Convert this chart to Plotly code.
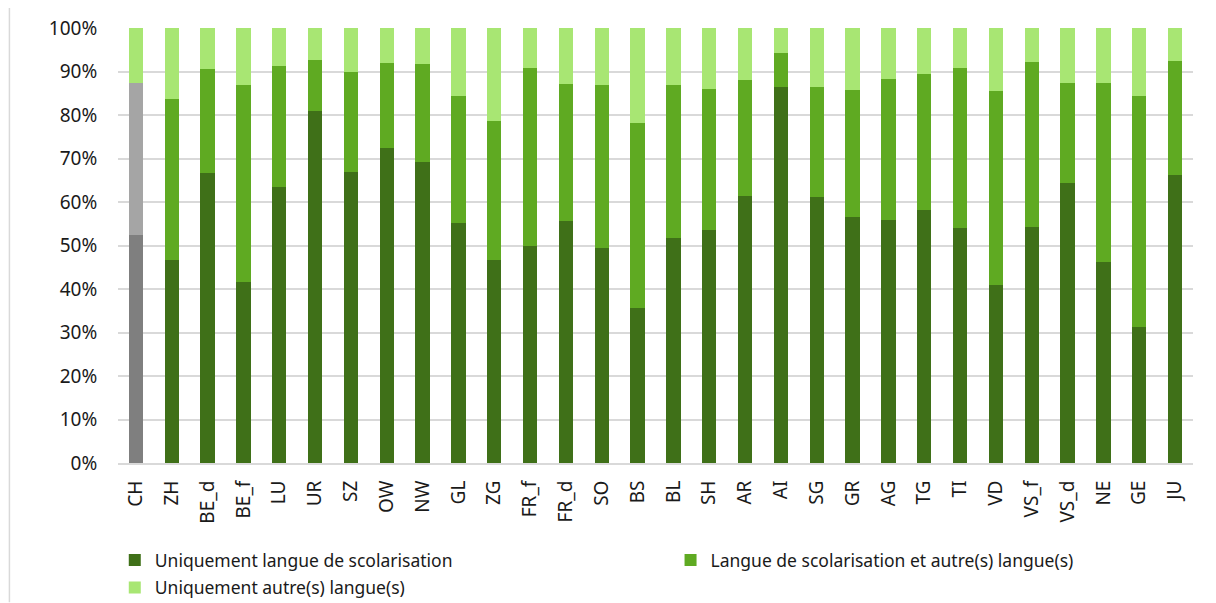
import plotly.graph_objects as go

cantons = ['CH', 'ZH', 'BE_d', 'BE_f', 'LU', 'UR', 'SZ', 'OW', 'NW', 'GL', 'ZG', 'FR_f',
           'FR_d', 'SO', 'BS', 'BL', 'SH', 'AR', 'AI', 'SG', 'GR', 'AG', 'TG', 'TI',
           'VD', 'VS_f', 'VS_d', 'NE', 'GE', 'JU']

# parts en %
uniquement_scol = [52.3, 46.6, 66.7, 41.5, 63.5, 81.0, 67.0, 72.5, 69.2, 55.2, 46.7, 49.8,
                   55.6, 49.4, 35.7, 51.8, 53.6, 61.3, 86.5, 61.1, 56.5, 55.9, 58.2, 54.0,
                   41.0, 54.3, 64.4, 46.2, 31.3, 66.2]
scol_et_autre = [35.0, 37.0, 23.8, 45.5, 27.7, 11.6, 23.0, 19.5, 22.5, 29.2, 32.0, 41.0,
                 31.5, 37.5, 42.5, 35.1, 32.4, 26.7, 7.7, 25.3, 29.2, 32.4, 31.2, 36.8,
                 44.5, 38.0, 22.9, 41.1, 53.0, 26.1]
uniquement_autre = [12.7, 16.4, 9.5, 13.0, 8.8, 7.4, 10.0, 8.0, 8.3, 15.6, 21.3, 9.2,
                    12.9, 13.1, 21.8, 13.1, 14.0, 12.0, 5.8, 13.6, 14.3, 11.7, 10.6, 9.2,
                    14.5, 7.7, 12.7, 12.7, 15.7, 7.7]

DARK, MID, LIGHT = '#3F7018', '#5FAA22', '#A8E673'
GREY_DARK, GREY_MID = '#7F7F7F', '#A5A5A5'

def only_ch(vals):
    return [v if c == 'CH' else None for c, v in zip(cantons, vals)]

def sans_ch(vals):
    return [None if c == 'CH' else v for c, v in zip(cantons, vals)]

fig = go.Figure()
# couche 1 : uniquement langue de scolarisation
fig.add_trace(go.Bar(x=cantons, y=sans_ch(uniquement_scol), name='Uniquement langue de scolarisation',
                     marker=dict(color=DARK, line=dict(width=0)), legend='legend'))
fig.add_trace(go.Bar(x=cantons, y=only_ch(uniquement_scol), showlegend=False,
                     marker=dict(color=GREY_DARK, line=dict(width=0))))
# couche 2 : langue de scolarisation et autre(s)
fig.add_trace(go.Bar(x=cantons, y=sans_ch(scol_et_autre), name='Langue de scolarisation et autre(s) langue(s)',
                     marker=dict(color=MID, line=dict(width=0)), legend='legend2'))
fig.add_trace(go.Bar(x=cantons, y=only_ch(scol_et_autre), showlegend=False,
                     marker=dict(color=GREY_MID, line=dict(width=0))))
# couche 3 : uniquement autre(s)
fig.add_trace(go.Bar(x=cantons, y=uniquement_autre, name='Uniquement autre(s) langue(s)',
                     marker=dict(color=LIGHT, line=dict(width=0)), legend='legend3'))

# cadre du graphique (bords gauche et haut visibles)
fig.add_shape(type='line', xref='paper', yref='paper', x0=-0.101, x1=-0.101, y0=-0.32, y1=1.055,
              line=dict(color='#D9D9D9', width=1.5))
fig.add_shape(type='line', xref='paper', yref='paper', x0=-0.101, x1=1.05, y0=1.055, y1=1.055,
              line=dict(color='#D9D9D9', width=1.5))

leg = dict(orientation='v', xanchor='left', yanchor='top', font=dict(size=17.5),
           bgcolor='rgba(0,0,0,0)', itemwidth=30)

fig.update_layout(
    barmode='stack',
    bargap=0.6,
    width=1208, height=595,
    margin=dict(l=110, r=23, t=20, b=140, autoexpand=False),
    paper_bgcolor='white', plot_bgcolor='white',
    font=dict(family='Noto Sans, sans-serif', size=17, color='#1a1a1a'),
    xaxis=dict(tickangle=-90, showline=True, linecolor='#D9D9D9', linewidth=2,
               ticks='outside', ticklen=8, tickcolor='rgba(0,0,0,0)',
               tickfont=dict(size=19), automargin=False),
    yaxis=dict(range=[0, 100], dtick=10, ticksuffix='%', showgrid=True, automargin=False,
               ticks='outside', ticklen=16, tickcolor='rgba(0,0,0,0)',
               gridcolor='#D9D9D9', gridwidth=1.5, zeroline=False, tickfont=dict(size=19)),
    legend=dict(leg, x=-0.003, y=-0.182),
    legend2=dict(leg, x=0.514, y=-0.182),
    legend3=dict(leg, x=-0.003, y=-0.245),
)

fig.write_html('out.html')
